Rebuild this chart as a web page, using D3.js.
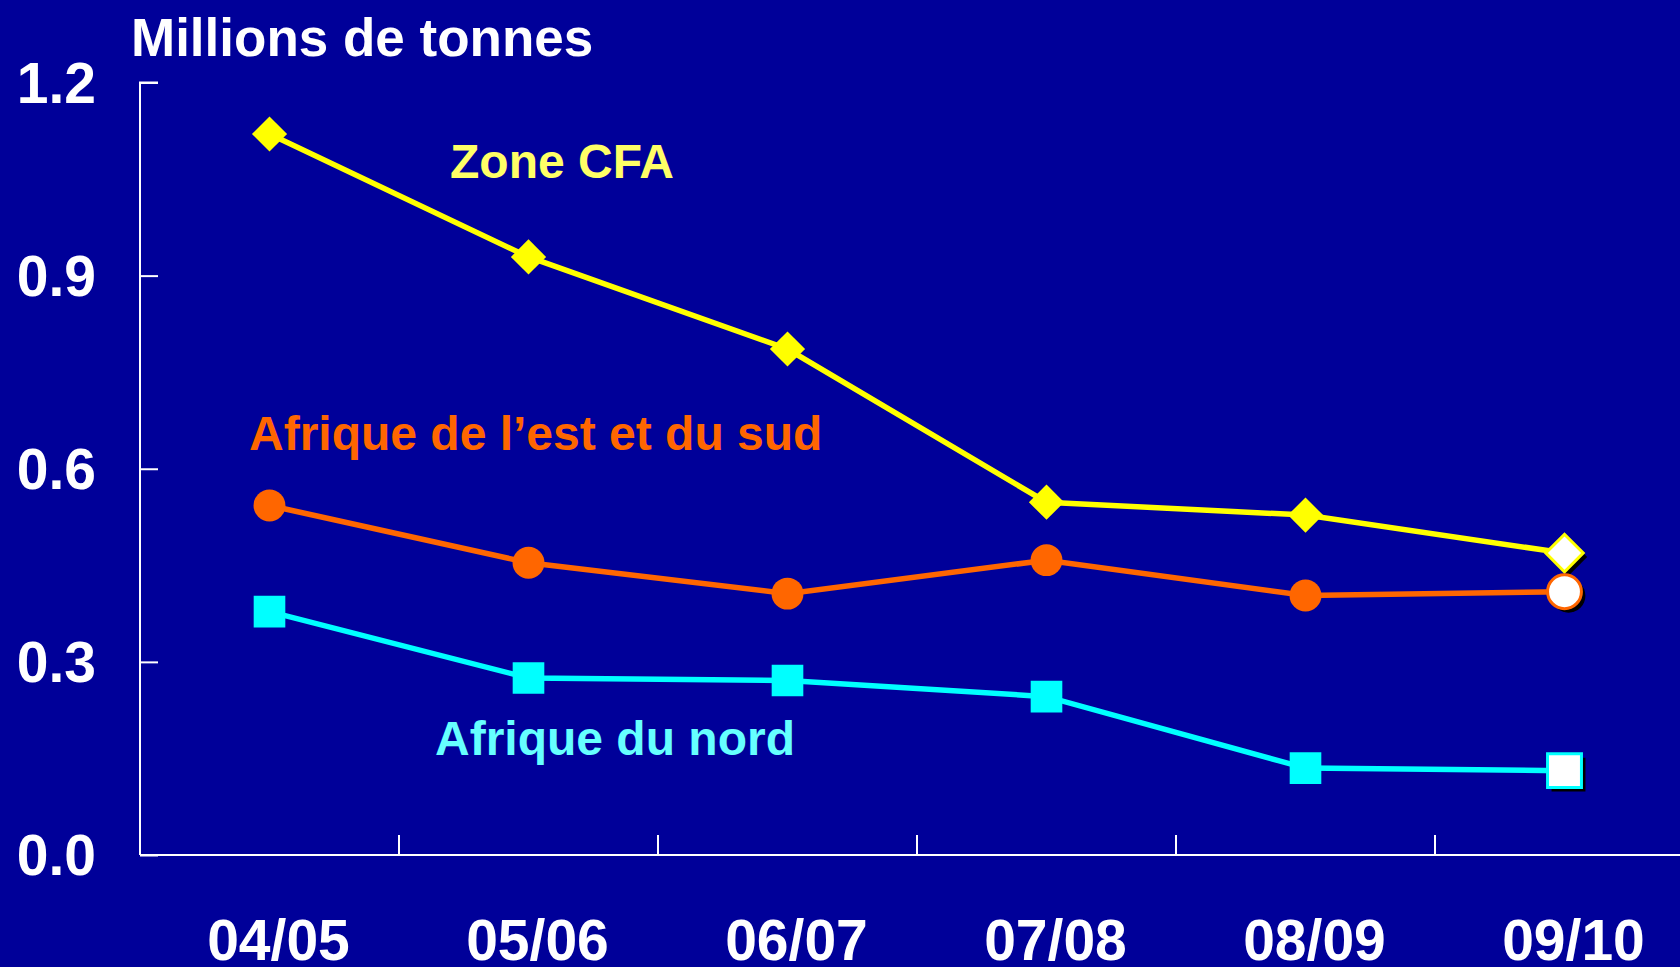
<!DOCTYPE html>
<html>
<head>
<meta charset="utf-8">
<script src="https://cdn.jsdelivr.net/npm/d3@7"></script>
<style>
  html, body { margin: 0; padding: 0; background: #000099; overflow: hidden; }
  text { font-family: "Liberation Sans", Arial, sans-serif; font-weight: bold; }
</style>
</head>
<body>
<div class="canvas"></div>
<script>
// Data
const seasons = ["04/05", "05/06", "06/07", "07/08", "08/09", "09/10"];
const zone_cfa = [1.12, 0.929, 0.786, 0.548, 0.528, 0.469];
const afrique_est_sud = [0.543, 0.454, 0.406, 0.458, 0.403, 0.409];
const afrique_nord = [0.378, 0.275, 0.271, 0.246, 0.135, 0.131];
const y_ticks = [0, 0.3, 0.6, 0.9, 1.2];

const series = [
  { name: "Zone CFA", values: zone_cfa, color: "#FFFF00", label_color: "#FFFF66", shape: "diamond", label: [450, 178] },
  { name: "Afrique de l\u2019est et du sud", values: afrique_est_sud, color: "#FF6600", label_color: "#FF6600", shape: "circle", label: [249, 450] },
  { name: "Afrique du nord", values: afrique_nord, color: "#00FFFF", label_color: "#66FFFF", shape: "square", label: [435, 755] }
];

// Settings
const width = 1680;
const height = 967;
const bg_color = "#000099";
const axis_left = 140;
const band = 259;

const svg = d3.select(".canvas").append("svg")
  .attr("width", width)
  .attr("height", height);

svg.append("rect").attr("width", width).attr("height", height).attr("fill", bg_color);

const xScale = d3.scaleBand().domain(seasons).range([axis_left, axis_left + band * seasons.length]);
const yScale = d3.scaleLinear().domain([0, 1.2]).range([855, 82.5]);

// Axes
const yAxis = svg.append("g")
  .attr("transform", "translate(" + axis_left + ",0)")
  .call(d3.axisRight(yScale).tickValues(y_ticks).tickSize(18).tickFormat(""));
yAxis.select(".domain").attr("d", "M18," + yScale(1.2) + "H0V" + yScale(0));
yAxis.selectAll("line, path").attr("stroke", "white").attr("stroke-width", 2);

const xAxis = svg.append("g")
  .attr("transform", "translate(0," + yScale(0) + ")");
xAxis.append("line")
  .attr("x1", axis_left).attr("x2", width)
  .attr("stroke", "white").attr("stroke-width", 2);
xAxis.selectAll("line.tick")
  .data(seasons.slice(1))
  .enter()
  .append("line")
  .attr("class", "tick")
  .attr("x1", d => xScale(d)).attr("x2", d => xScale(d))
  .attr("y1", 0).attr("y2", -20)
  .attr("stroke", "white").attr("stroke-width", 2);

// Tick labels
svg.selectAll("text.ylabel")
  .data(y_ticks)
  .enter()
  .append("text")
  .attr("class", "ylabel")
  .attr("x", 96)
  .attr("y", d => yScale(d) + 20)
  .attr("text-anchor", "end")
  .attr("font-size", "57px")
  .attr("fill", "white")
  .text(d => d.toFixed(1));

svg.selectAll("text.xlabel")
  .data(seasons)
  .enter()
  .append("text")
  .attr("class", "xlabel")
  .attr("x", d => xScale(d) + xScale.bandwidth() / 2 + 9)
  .attr("y", 960)
  .attr("text-anchor", "middle")
  .attr("font-size", "57px")
  .attr("fill", "white")
  .text(d => d);

svg.append("text")
  .attr("x", 131)
  .attr("y", 56)
  .attr("font-size", "53px")
  .attr("fill", "white")
  .text("Millions de tonnes");

// Lines and markers
const cx = d => xScale(d) + xScale.bandwidth() / 2;
const line = d3.line()
  .x((d, i) => cx(seasons[i]))
  .y(d => yScale(d));

function marker(shape, big) {
  if (shape === "diamond") return d3.symbol().type(d3.symbolSquare).size(big ? 700 : 620)();
  if (shape === "circle") return d3.symbol().type(d3.symbolCircle).size(big ? 900 : 800)();
  return d3.symbol().type(d3.symbolSquare).size(big ? 1150 : 1000)();
}

function place(shape, x, y) {
  return "translate(" + x + "," + y + ")" + (shape === "diamond" ? " rotate(45)" : "");
}

series.forEach(function(s) {
  svg.append("path")
    .attr("d", line(s.values))
    .attr("fill", "none")
    .attr("stroke", s.color)
    .attr("stroke-width", 5.5);

  const last = s.values.length - 1;

  // shadow for the last point
  svg.append("path")
    .attr("d", marker(s.shape, true))
    .attr("transform", place(s.shape, cx(seasons[last]) + 4, yScale(s.values[last]) + 4))
    .attr("fill", "black");

  svg.selectAll(null)
    .data(s.values)
    .enter()
    .append("path")
    .attr("d", (d, i) => marker(s.shape, i === last))
    .attr("transform", (d, i) => place(s.shape, cx(seasons[i]), yScale(d)))
    .attr("fill", (d, i) => i === last ? "white" : s.color)
    .attr("stroke", s.color)
    .attr("stroke-width", (d, i) => i === last ? 3 : 0);

  svg.append("text")
    .attr("x", s.label[0])
    .attr("y", s.label[1])
    .attr("font-size", "48px")
    .attr("fill", s.label_color)
    .text(s.name);
});
</script>
</body>
</html>
